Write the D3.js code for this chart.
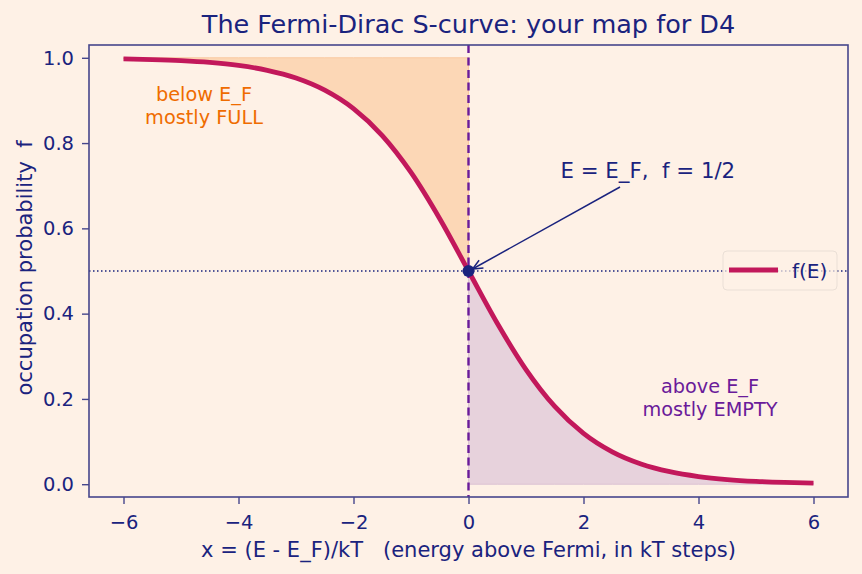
<!DOCTYPE html>
<html><head><meta charset="utf-8">
<script src="https://cdn.jsdelivr.net/npm/d3@7"></script>
<style>
html,body{margin:0;padding:0;background:#fef1e6;}
svg{display:block;font-family:"DejaVu Sans",sans-serif;}
</style></head>
<body>
<svg id="chart" width="862" height="574"></svg>
<script>
const xValues = [-6,-5.5,-5,-4.5,-4,-3.5,-3,-2.5,-2,-1.5,-1,-0.5,0,0.5,1,1.5,2,2.5,3,3.5,4,4.5,5,5.5,6];
const fValues = [0.9975,0.9959,0.9933,0.9890,0.9820,0.9707,0.9526,0.9241,0.8808,0.8176,0.7311,0.6225,0.5,0.3775,0.2689,0.1824,0.1192,0.0759,0.0474,0.0293,0.0180,0.0110,0.0067,0.0041,0.0025];
const xTicks = [-6,-4,-2,0,2,4,6];
const yTicks = [0,0.2,0.4,0.6,0.8,1.0];
const titleText = "The Fermi-Dirac S-curve: your map for D4";
const xLabel = "x = (E - E_F)/kT   (energy above Fermi, in kT steps)";
const yLabel = "occupation probability  f";
const legendLabel = "f(E)";
const fermiPoint = {x:0, f:0.5};
const annotText = "E = E_F,  f = 1/2";
const annotPos = {x:1.6, f:0.72};
const belowText = ["below E_F","mostly FULL"];
const belowPos = {x:-4.6, f:0.9};
const aboveText = ["above E_F","mostly EMPTY"];
const abovePos = {x:4.2, f:0.2};

const navy = "#1a237e", spine = "#46468c", curveCol = "#c2185b", purple = "#6a1b9a", orange = "#ef6c00";
const W = 862, H = 574;
const m = {left:89, right:848, top:45, bottom:497};
const svg = d3.select("#chart");
svg.append("rect").attr("width",W).attr("height",H).attr("fill","#fef1e6");

const x = d3.scaleLinear().domain([-6.6,6.6]).range([m.left,m.right]);
const y = d3.scaleLinear().domain([-0.03,1.03]).range([m.bottom,m.top]);
const pts = xValues.map((v,i)=>({x:v,f:fValues[i]}));
const left = pts.filter(d=>d.x<=0), right = pts.filter(d=>d.x>=0);

const g = svg.append("g");
// fills
g.append("path").datum(left)
  .attr("d", d3.area().x(d=>x(d.x)).y0(y(1)).y1(d=>y(d.f)).curve(d3.curveMonotoneX))
  .attr("fill","#fcd7b6").attr("stroke","#f9c9a0").attr("stroke-width",1);
g.append("path").datum(right)
  .attr("d", d3.area().x(d=>x(d.x)).y0(y(0)).y1(d=>y(d.f)).curve(d3.curveMonotoneX))
  .attr("fill","#e7d2dc").attr("stroke","#dcc3d3").attr("stroke-width",1);

// reference lines
g.append("line").attr("x1",m.left).attr("x2",m.right).attr("y1",y(0.5)).attr("y2",y(0.5))
  .attr("stroke",navy).attr("stroke-width",1.3).attr("stroke-dasharray","1.5,2.5");
g.append("line").attr("x1",x(0)).attr("x2",x(0)).attr("y1",m.top).attr("y2",m.bottom)
  .attr("stroke",purple).attr("stroke-width",2.4).attr("stroke-dasharray","8,4.5");

// curve
g.append("path").datum(pts)
  .attr("d", d3.line().x(d=>x(d.x)).y(d=>y(d.f)).curve(d3.curveMonotoneX))
  .attr("fill","none").attr("stroke",curveCol).attr("stroke-width",4.8).attr("stroke-linecap","butt");

// point
g.append("circle").attr("cx",x(fermiPoint.x)).attr("cy",y(fermiPoint.f)).attr("r",6).attr("fill",navy);

// annotation arrow
const ax0 = 620, ay0 = 187, ax1 = x(fermiPoint.x)+4, ay1 = y(fermiPoint.f)-2;
g.append("line").attr("x1",ax0).attr("y1",ay0).attr("x2",ax1).attr("y2",ay1)
  .attr("stroke",navy).attr("stroke-width",1.5);
const ang = Math.atan2(ay0-ay1, ax0-ax1);
const hl = 11, ha = 0.42;
g.append("path").attr("d",`M${ax1+hl*Math.cos(ang-ha)},${ay1+hl*Math.sin(ang-ha)} L${ax1},${ay1} L${ax1+hl*Math.cos(ang+ha)},${ay1+hl*Math.sin(ang+ha)}`)
  .attr("fill","none").attr("stroke",navy).attr("stroke-width",1.5);
svg.append("text").attr("x",x(annotPos.x)).attr("y",y(annotPos.f)+1).attr("text-anchor","start")
  .attr("fill",navy).attr("font-size",21.3).style("white-space","pre").text(annotText);

// region texts
belowText.forEach((t,i)=>svg.append("text").attr("x",x(belowPos.x)).attr("y",y(belowPos.f)+i*23+1)
  .attr("text-anchor","middle").attr("fill",orange).attr("font-size",19.3).text(t));
aboveText.forEach((t,i)=>svg.append("text").attr("x",x(abovePos.x)).attr("y",y(abovePos.f)-6+i*23)
  .attr("text-anchor","middle").attr("fill",purple).attr("font-size",19.3).text(t));

// spines
svg.append("rect").attr("x",m.left).attr("y",m.top).attr("width",m.right-m.left).attr("height",m.bottom-m.top)
  .attr("fill","none").attr("stroke",spine).attr("stroke-width",1.6);

// axes
const xa = svg.append("g").attr("transform",`translate(0,${m.bottom})`)
  .call(d3.axisBottom(x).tickValues(xTicks).tickSize(7).tickPadding(11).tickFormat(d=>d<0?"\u2212"+Math.abs(d):d));
const ya = svg.append("g").attr("transform",`translate(${m.left},0)`)
  .call(d3.axisLeft(y).tickValues(yTicks).tickSize(7).tickPadding(8).tickFormat(d3.format(".1f")));
[xa,ya].forEach(a=>{
  a.select(".domain").remove();
  a.selectAll(".tick line").attr("stroke",spine).attr("stroke-width",1.4);
  a.selectAll(".tick text").attr("fill",navy).attr("font-size",19.5).attr("font-family","DejaVu Sans");
});

// titles
svg.append("text").attr("x",(m.left+m.right)/2).attr("y",33).attr("text-anchor","middle")
  .attr("fill",navy).attr("font-size",25.5).text(titleText);
svg.append("text").attr("x",(m.left+m.right)/2).attr("y",557).attr("text-anchor","middle")
  .attr("fill",navy).attr("font-size",21).style("white-space","pre").text(xLabel);
svg.append("text").attr("transform",`translate(32,${(m.top+m.bottom)/2-3}) rotate(-90)`).attr("text-anchor","middle")
  .attr("fill",navy).attr("font-size",21).style("white-space","pre").text(yLabel);

// legend
const lg = svg.append("g");
lg.append("rect").attr("x",723).attr("y",251).attr("width",114).attr("height",39).attr("rx",4)
  .attr("fill","#fef1e6").attr("fill-opacity",0.7).attr("stroke","#eadfd6").attr("stroke-width",1);
lg.append("line").attr("x1",729).attr("x2",778).attr("y1",270).attr("y2",270)
  .attr("stroke",curveCol).attr("stroke-width",4.8);
lg.append("text").attr("x",792).attr("y",278).attr("fill",navy).attr("font-size",20).text(legendLabel);
</script>
</body></html>
